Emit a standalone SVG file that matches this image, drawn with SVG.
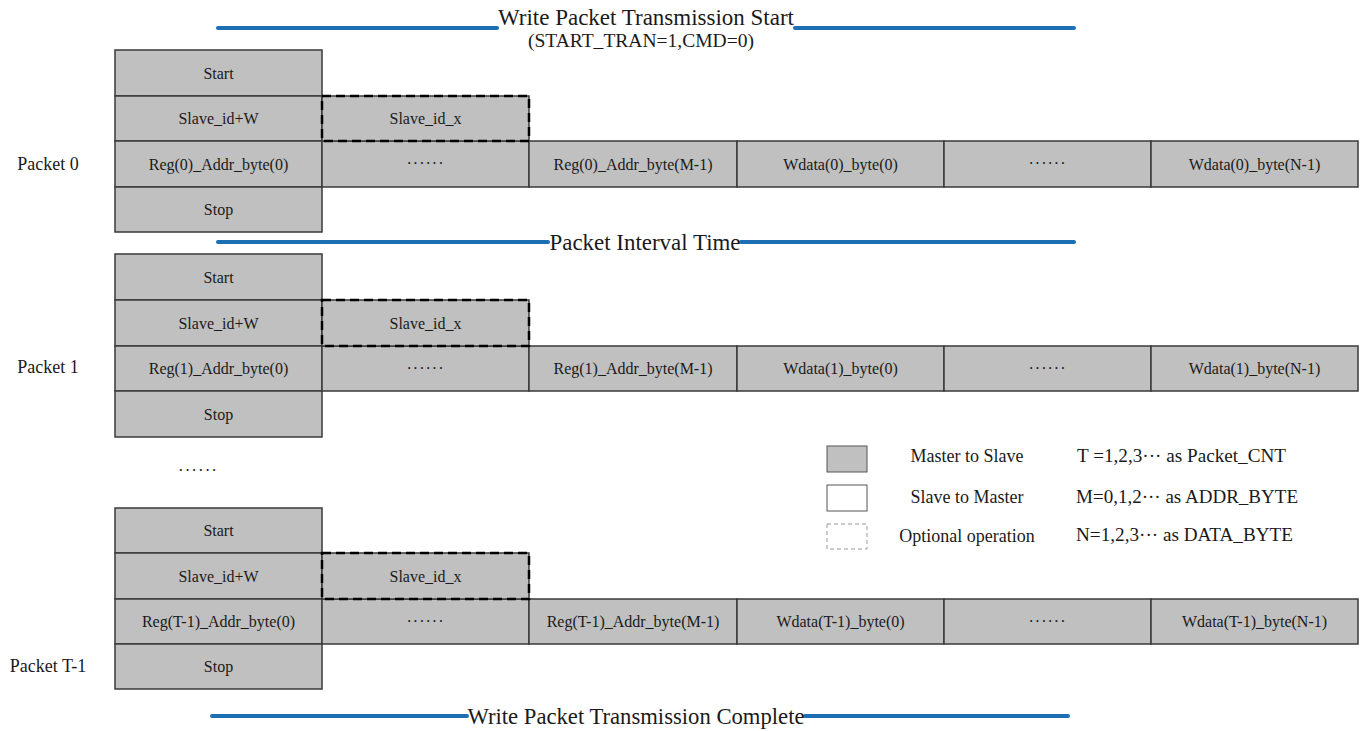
<svg xmlns="http://www.w3.org/2000/svg" width="1367" height="731" viewBox="0 0 1367 731">
<style>
text{font-family:"Liberation Serif","Times New Roman",serif;fill:#1a1a1a}
.c{fill:#c0c0c0;stroke:#3a3a3a;stroke-width:1.5}
.d{fill:none;stroke:#000;stroke-width:2.5;stroke-dasharray:9 5}
.t{font-size:16px;text-anchor:middle}
.dots{font-size:16px;text-anchor:middle;letter-spacing:1px}
.lbl{font-size:18px;text-anchor:middle}
.ban{font-size:24px;text-anchor:middle}
.blue{stroke:#1d6fb3;stroke-width:4;fill:none;stroke-linecap:round}
.leg{font-size:18px}
</style>
<rect width="1367" height="731" fill="#fff"/>

<g id="connectors">
<line class="blue" x1="218" y1="28" x2="497" y2="28"/>
<line class="blue" x1="795" y1="28" x2="1074" y2="28"/>
<line class="blue" x1="218" y1="242" x2="548" y2="242"/>
<line class="blue" x1="741" y1="242" x2="1074" y2="242"/>
<line class="blue" x1="212" y1="716" x2="467" y2="716"/>
<line class="blue" x1="805" y1="716" x2="1068" y2="716"/>
</g>

<g id="banners">
<text class="ban" x="646" y="25" textLength="296" lengthAdjust="spacingAndGlyphs">Write Packet Transmission Start</text>
<text x="641" y="47" font-size="19" text-anchor="middle" textLength="226" lengthAdjust="spacingAndGlyphs">(START_TRAN=1,CMD=0)</text>
<text class="ban" x="645" y="250" textLength="191" lengthAdjust="spacingAndGlyphs">Packet Interval Time</text>
<text class="ban" x="636" y="724" textLength="337" lengthAdjust="spacingAndGlyphs">Write Packet Transmission Complete</text>
</g>

<!-- Packet 0 -->
<g id="packet0">
<text class="lbl" x="48" y="170">Packet 0</text>
<g id="p0-start"><rect class="c" x="115" y="50" width="207" height="46"/><text class="t" x="218.5" y="78.5">Start</text></g>
<g id="p0-slave"><rect class="c" x="115" y="96" width="207" height="45"/><text class="t" x="218.5" y="124">Slave_id+W</text></g>
<g id="p0-reg0"><rect class="c" x="115" y="141" width="207" height="46"/><text class="t" x="218.5" y="169.5">Reg(0)_Addr_byte(0)</text></g>
<g id="p0-regdots"><rect class="c" x="322" y="141" width="207" height="46"/><text class="dots" x="425.5" y="169">······</text></g>
<g id="p0-regm"><rect class="c" x="529" y="141" width="208" height="46"/><text class="t" x="633" y="169.5">Reg(0)_Addr_byte(M-1)</text></g>
<g id="p0-wd0"><rect class="c" x="737" y="141" width="207" height="46"/><text class="t" x="840.5" y="169.5">Wdata(0)_byte(0)</text></g>
<g id="p0-wddots"><rect class="c" x="944" y="141" width="207" height="46"/><text class="dots" x="1047.5" y="169">······</text></g>
<g id="p0-wdn"><rect class="c" x="1151" y="141" width="207" height="46"/><text class="t" x="1254.5" y="169.5">Wdata(0)_byte(N-1)</text></g>
<g id="p0-stop"><rect class="c" x="115" y="187" width="207" height="45"/><text class="t" x="218.5" y="215">Stop</text></g>
<g id="p0-slavex"><rect class="c" x="322" y="96" width="207" height="45" stroke="none"/><rect class="d" x="322" y="96" width="207" height="45"/><text class="t" x="425.5" y="124">Slave_id_x</text></g>
</g>

<!-- Packet 1 -->
<g id="packet1">
<text class="lbl" x="48" y="373">Packet 1</text>
<g id="p1-start"><rect class="c" x="115" y="254" width="207" height="46"/><text class="t" x="218.5" y="282.5">Start</text></g>
<g id="p1-slave"><rect class="c" x="115" y="300" width="207" height="46"/><text class="t" x="218.5" y="328.5">Slave_id+W</text></g>
<g id="p1-reg0"><rect class="c" x="115" y="346" width="207" height="45"/><text class="t" x="218.5" y="374">Reg(1)_Addr_byte(0)</text></g>
<g id="p1-regdots"><rect class="c" x="322" y="346" width="207" height="45"/><text class="dots" x="425.5" y="373.5">······</text></g>
<g id="p1-regm"><rect class="c" x="529" y="346" width="208" height="45"/><text class="t" x="633" y="374">Reg(1)_Addr_byte(M-1)</text></g>
<g id="p1-wd0"><rect class="c" x="737" y="346" width="207" height="45"/><text class="t" x="840.5" y="374">Wdata(1)_byte(0)</text></g>
<g id="p1-wddots"><rect class="c" x="944" y="346" width="207" height="45"/><text class="dots" x="1047.5" y="373.5">······</text></g>
<g id="p1-wdn"><rect class="c" x="1151" y="346" width="207" height="45"/><text class="t" x="1254.5" y="374">Wdata(1)_byte(N-1)</text></g>
<g id="p1-stop"><rect class="c" x="115" y="391" width="207" height="46"/><text class="t" x="218.5" y="419.5">Stop</text></g>
<g id="p1-slavex"><rect class="c" x="322" y="300" width="207" height="46" stroke="none"/><rect class="d" x="322" y="300" width="207" height="46"/><text class="t" x="425.5" y="328.5">Slave_id_x</text></g>
</g>

<g id="ellipsis"><text x="198" y="476" font-size="17" text-anchor="middle" letter-spacing="1">······</text></g>

<!-- Packet T-1 -->
<g id="packetT">
<text class="lbl" x="48" y="672">Packet T-1</text>
<g id="pt-start"><rect class="c" x="115" y="508" width="207" height="45"/><text class="t" x="218.5" y="536">Start</text></g>
<g id="pt-slave"><rect class="c" x="115" y="553" width="207" height="46"/><text class="t" x="218.5" y="581.5">Slave_id+W</text></g>
<g id="pt-reg0"><rect class="c" x="115" y="599" width="207" height="45"/><text class="t" x="218.5" y="627">Reg(T-1)_Addr_byte(0)</text></g>
<g id="pt-regdots"><rect class="c" x="322" y="599" width="207" height="45"/><text class="dots" x="425.5" y="626.5">······</text></g>
<g id="pt-regm"><rect class="c" x="529" y="599" width="208" height="45"/><text class="t" x="633" y="627">Reg(T-1)_Addr_byte(M-1)</text></g>
<g id="pt-wd0"><rect class="c" x="737" y="599" width="207" height="45"/><text class="t" x="840.5" y="627">Wdata(T-1)_byte(0)</text></g>
<g id="pt-wddots"><rect class="c" x="944" y="599" width="207" height="45"/><text class="dots" x="1047.5" y="626.5">······</text></g>
<g id="pt-wdn"><rect class="c" x="1151" y="599" width="207" height="45"/><text class="t" x="1254.5" y="627">Wdata(T-1)_byte(N-1)</text></g>
<g id="pt-stop"><rect class="c" x="115" y="644" width="207" height="45"/><text class="t" x="218.5" y="672">Stop</text></g>
<g id="pt-slavex"><rect class="c" x="322" y="553" width="207" height="46" stroke="none"/><rect class="d" x="322" y="553" width="207" height="46"/><text class="t" x="425.5" y="581.5">Slave_id_x</text></g>
</g>

<!-- Legend -->
<g id="legend">
<rect x="827" y="446" width="40" height="26" fill="#c0c0c0" stroke="#555" stroke-width="1"/>
<rect x="827" y="485" width="40" height="26" fill="#fff" stroke="#555" stroke-width="1"/>
<rect x="827" y="524" width="40" height="25" fill="none" stroke="#999" stroke-width="1" stroke-dasharray="4 3"/>
<text class="leg" x="967" y="462" text-anchor="middle">Master to Slave</text>
<text class="leg" x="967" y="503" text-anchor="middle">Slave to Master</text>
<text class="leg" x="967" y="542" text-anchor="middle">Optional operation</text>
<text class="leg" x="1077" y="462" textLength="209" lengthAdjust="spacingAndGlyphs">T =1,2,3··· as Packet_CNT</text>
<text class="leg" x="1076" y="503" textLength="222" lengthAdjust="spacingAndGlyphs">M=0,1,2··· as ADDR_BYTE</text>
<text class="leg" x="1076" y="541" textLength="217" lengthAdjust="spacingAndGlyphs">N=1,2,3··· as DATA_BYTE</text>
</g>
</svg>
